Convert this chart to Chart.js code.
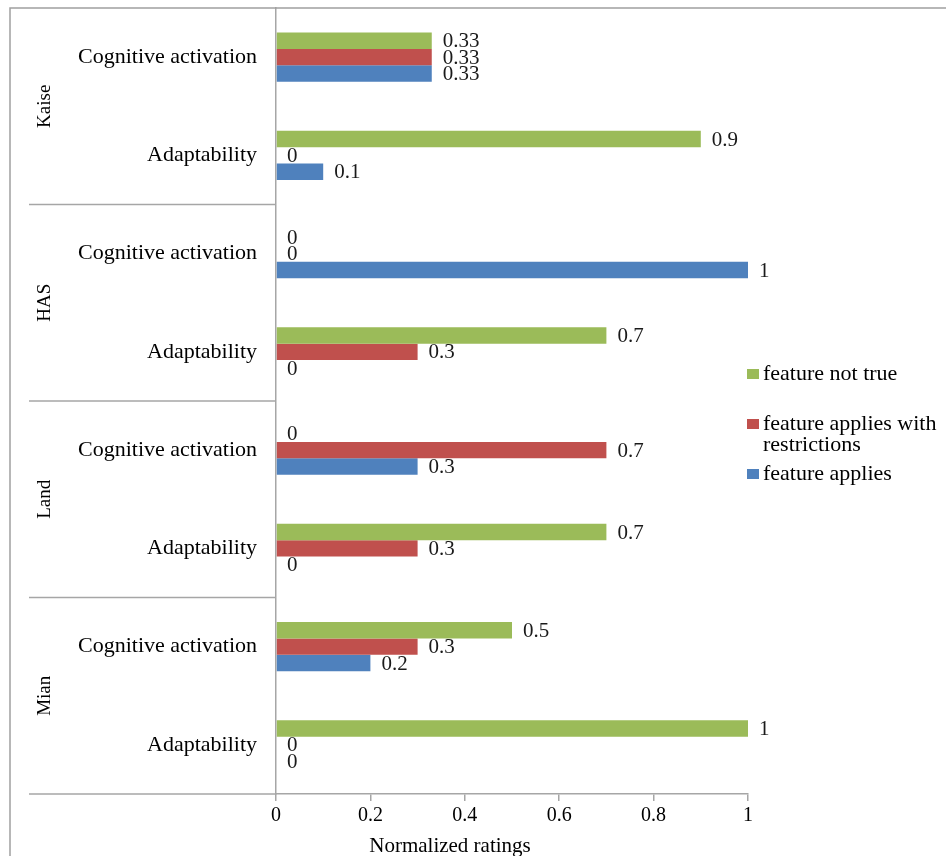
<!DOCTYPE html>
<html>
<head>
<meta charset="utf-8">
<script src="https://cdn.jsdelivr.net/npm/chart.js@4/dist/chart.umd.min.js"></script>
<style>
  html, body { margin: 0; padding: 0; background: #fff; overflow: hidden; }
  #wrap { width: 946px; height: 856px; position: relative; }
</style>
</head>
<body>
<div id="wrap"><canvas id="c" width="946" height="856"></canvas></div>
<script>
// ---- data ----
const categories = [
  "Cognitive activation", "Adaptability",
  "Cognitive activation", "Adaptability",
  "Cognitive activation", "Adaptability",
  "Cognitive activation", "Adaptability"
];
const groups = ["Kaise", "HAS", "Land", "Mian"];
const seriesNames = ["feature not true", "feature applies with restrictions", "feature applies"];
const featureNotTrue      = [0.33, 0.9, 0,   0.7, 0,   0.7, 0.5, 1];
const featureRestrictions = [0.33, 0,   0,   0.3, 0.7, 0.3, 0.3, 0];
const featureApplies      = [0.33, 0.1, 1,   0,   0.3, 0,   0.2, 0];
const valueLabels = [
  ["0.33", "0.9", "0", "0.7", "0", "0.7", "0.5", "1"],
  ["0.33", "0", "0", "0.3", "0.7", "0.3", "0.3", "0"],
  ["0.33", "0.1", "1", "0", "0.3", "0", "0.2", "0"]
];
const xTicks = [0, 0.2, 0.4, 0.6, 0.8, 1];
const xTitle = "Normalized ratings";

const colors = ["#9BBB59", "#C0504D", "#4F81BD"];
const SERIF = "'Liberation Serif', 'Times New Roman', serif";
const AXIS_COLOR = "#a6a6a6";

const decorations = {
  id: "decorations",
  afterDatasetsDraw(chart) {
    const ctx = chart.ctx;
    ctx.save();
    ctx.font = "21px " + SERIF;
    ctx.fillStyle = "#1a1a1a";
    ctx.textAlign = "left";
    ctx.textBaseline = "middle";
    chart.data.datasets.forEach((ds, di) => {
      const meta = chart.getDatasetMeta(di);
      meta.data.forEach((bar, i) => {
        ctx.fillText(valueLabels[di][i], bar.x + 11, bar.y + 1);
      });
    });
    ctx.restore();
  },
  afterDraw(chart) {
    const ctx = chart.ctx;
    const ys = chart.scales.y;
    const ca = chart.chartArea;
    ctx.save();
    // outer frame (left and top)
    ctx.strokeStyle = "#a0a0a0";
    ctx.lineWidth = 1.5;
    ctx.beginPath();
    ctx.moveTo(10, 860);
    ctx.lineTo(10, 8);
    ctx.lineTo(960, 8);
    ctx.stroke();
    // group separators
    ctx.strokeStyle = AXIS_COLOR;
    ctx.lineWidth = 1.5;
    const step = (ys.getPixelForValue(1) - ys.getPixelForValue(0));
    for (let g = 1; g <= groups.length; g++) {
      const idx = g * 2 - 1;
      const y = ys.getPixelForValue(idx) + step / 2;
      ctx.beginPath();
      ctx.moveTo(29, y);
      ctx.lineTo(ca.left, y);
      ctx.stroke();
    }
    // group labels (rotated)
    ctx.fillStyle = "#000";
    ctx.font = "19px " + SERIF;
    ctx.textAlign = "center";
    ctx.textBaseline = "middle";
    groups.forEach((g, gi) => {
      const yc = (ys.getPixelForValue(gi * 2) + ys.getPixelForValue(gi * 2 + 1)) / 2;
      ctx.save();
      ctx.translate(45, yc);
      ctx.rotate(-Math.PI / 2);
      ctx.fillText(g, 0, 0);
      ctx.restore();
    });
    // axis title
    ctx.font = "21px " + SERIF;
    ctx.textAlign = "center";
    ctx.textBaseline = "middle";
    ctx.fillText(xTitle, 450, 846);
    // legend
    const lx = 747, tx = 763;
    const items = [
      { c: colors[0], lines: ["feature not true"], y: 374 },
      { c: colors[1], lines: ["feature applies with", "restrictions"], y: 424 },
      { c: colors[2], lines: ["feature applies"], y: 474 }
    ];
    ctx.font = "22px " + SERIF;
    ctx.textAlign = "left";
    items.forEach(it => {
      ctx.fillStyle = it.c;
      ctx.fillRect(lx, it.y - 5, 12, 10);
      ctx.fillStyle = "#000";
      it.lines.forEach((ln, k) => ctx.fillText(ln, tx, it.y + k * 21));
    });
    ctx.restore();
  }
};

new Chart(document.getElementById("c"), {
  type: "bar",
  data: {
    labels: categories,
    datasets: [
      { label: seriesNames[0], data: featureNotTrue, backgroundColor: colors[0] },
      { label: seriesNames[1], data: featureRestrictions, backgroundColor: colors[1] },
      { label: seriesNames[2], data: featureApplies, backgroundColor: colors[2] }
    ]
  },
  options: {
    indexAxis: "y",
    responsive: false,
    animation: false,
    devicePixelRatio: 1,
    layout: { padding: { left: 0, right: 198, top: 8, bottom: 0 } },
    datasets: { bar: { categoryPercentage: 0.5, barPercentage: 1.0, borderWidth: 0 } },
    plugins: { legend: { display: false }, tooltip: { enabled: false } },
    scales: {
      x: {
        min: 0, max: 1,
        afterBuildTicks(scale) { scale.ticks = xTicks.map(v => ({ value: v })); },
        afterFit(scale) { scale.height = 62; scale.paddingLeft = 0; scale.paddingRight = 0; },
        grid: { display: true, drawOnChartArea: false, drawTicks: true, tickLength: 7, color: AXIS_COLOR, lineWidth: 1.5 },
        border: { display: true, color: AXIS_COLOR, width: 1.5 },
        ticks: {
          padding: 3,
          color: "#000",
          font: { family: SERIF, size: 20 },
          callback: v => String(+(+v).toFixed(1))
        }
      },
      y: {
        afterFit(scale) { scale.width = 276; scale.paddingTop = 0; scale.paddingBottom = 0; },
        grid: { display: true, drawOnChartArea: false, drawTicks: false },
        border: { display: true, color: AXIS_COLOR, width: 1.5 },
        ticks: {
          padding: 19,
          color: "#000",
          font: { family: SERIF, size: 22 }
        }
      }
    }
  },
  plugins: [decorations]
});
</script>
</body>
</html>
